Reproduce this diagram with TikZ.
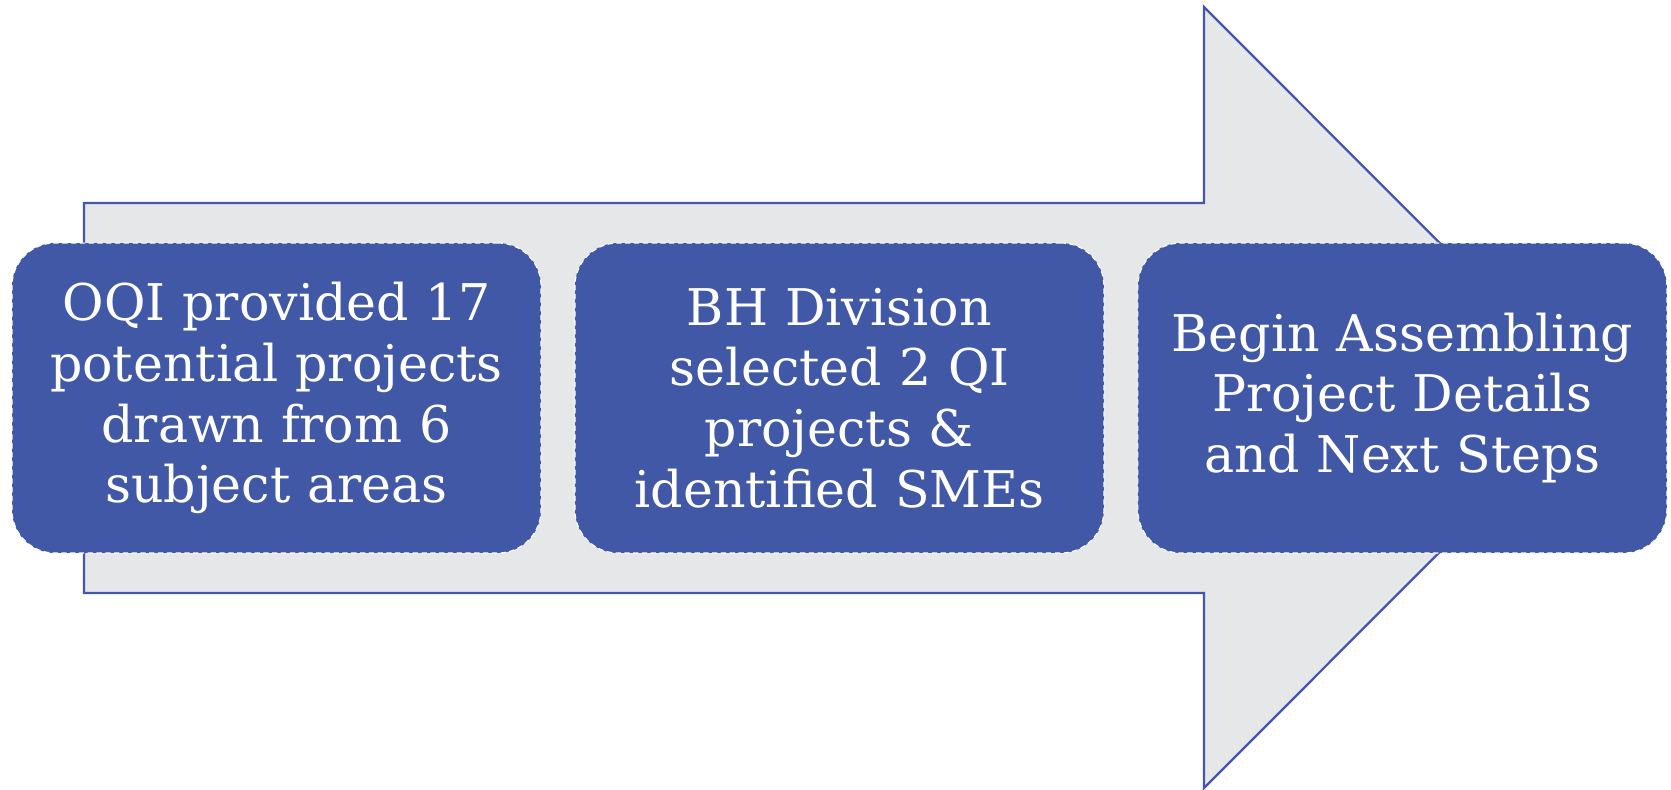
\documentclass[tikz,border=0pt]{standalone}
\usepackage{fontspec}
\setmainfont{DejaVu Serif}
\usetikzlibrary{positioning}

\definecolor{stepblue}{RGB}{65,88,166}
\definecolor{arrowgray}{RGB}{230,231,232}
\definecolor{arrowline}{RGB}{68,87,176}

\begin{document}
\begin{tikzpicture}[x=0.02cm,y=-0.02cm,
  stepbox/.style={draw=white, densely dashed, line width=0.6pt, fill=stepblue,
    rounded corners=0.86cm, minimum width=10.58cm, minimum height=6.2cm,
    text width=10.4cm, align=center, text=white, inner sep=0pt,
    font=\fontsize{28.8}{34.6}\selectfont}]
\useasboundingbox (0,0) rectangle (1671,789);

% Big arrow in the back
\draw[arrowline, line width=1.3pt, fill=arrowgray]
  (84,203) -- (1204,203) -- (1204,7) -- (1594,397.5)
  -- (1204,788) -- (1204,593) -- (84,593) -- cycle;

% Steps
\node[stepbox] (oqi) at (276.5,398)
  {OQI provided 17\\potential projects\\drawn from 6\\subject areas};
\node[stepbox, right=0.66cm of oqi] (bh)
  {BH Division\\selected 2 QI\\projects \&\\identified SMEs};
\node[stepbox, right=0.66cm of bh] (next)
  {Begin Assembling\\Project Details\\and Next Steps};
\end{tikzpicture}
\end{document}
